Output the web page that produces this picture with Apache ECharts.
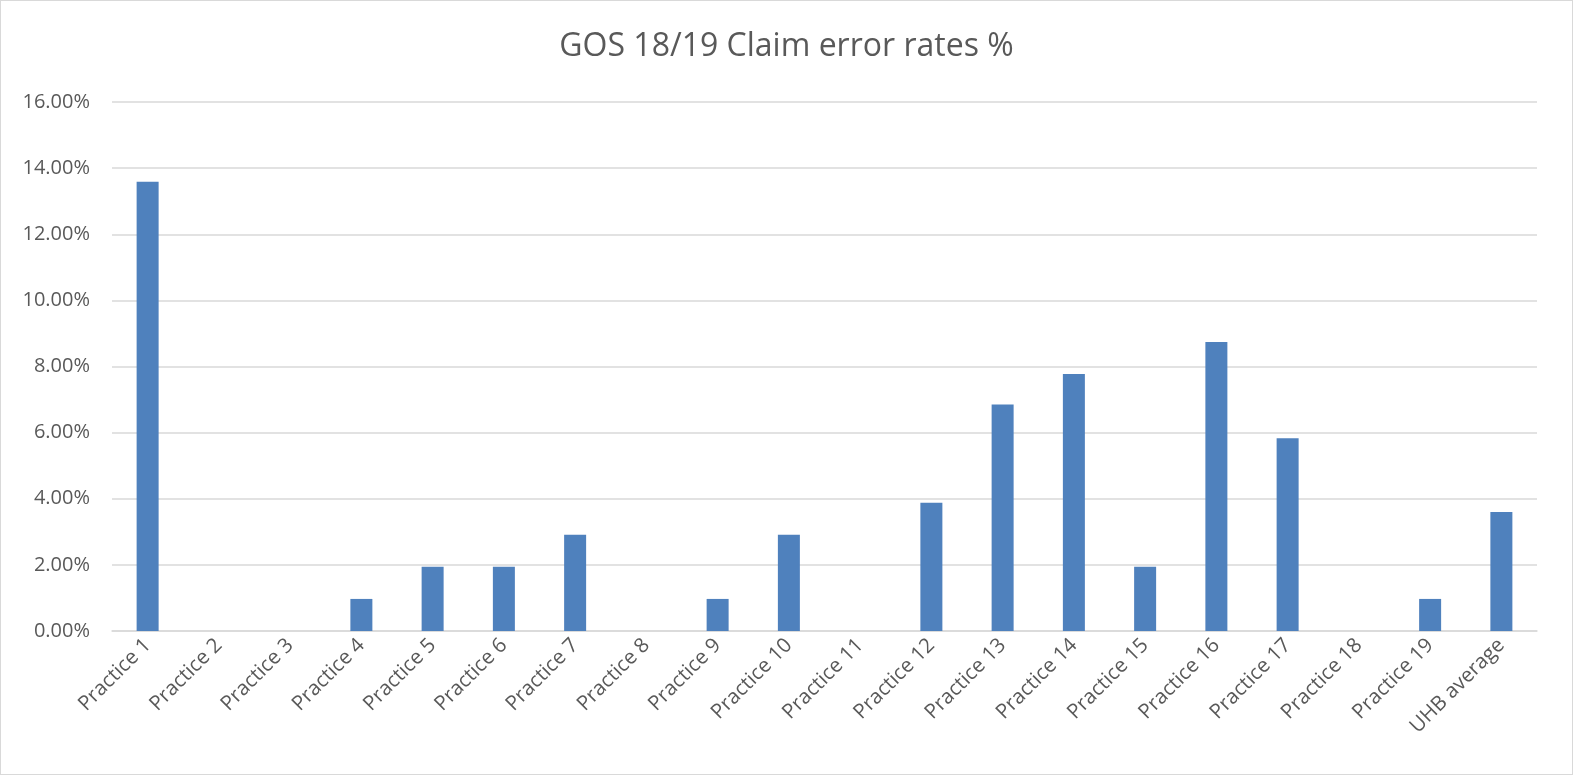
<!DOCTYPE html>
<html>
<head>
<meta charset="utf-8">
<script src="https://cdn.jsdelivr.net/npm/echarts@6/dist/echarts.min.js"></script>
<style>
  html, body { margin: 0; padding: 0; background: #fff; }
  #main { width: 1573px; height: 775px; box-sizing: border-box; border: 1px solid #d9d9d9; }
</style>
</head>
<body>
<div id="main"></div>
<script>
// categories
var practices = ['Practice 1', 'Practice 2', 'Practice 3', 'Practice 4', 'Practice 5',
  'Practice 6', 'Practice 7', 'Practice 8', 'Practice 9', 'Practice 10',
  'Practice 11', 'Practice 12', 'Practice 13', 'Practice 14', 'Practice 15',
  'Practice 16', 'Practice 17', 'Practice 18', 'Practice 19', 'UHB average'];
// error rates in %
var errorRates = [13.59, 0, 0, 0.97, 1.94, 1.94, 2.91, 0, 0.97, 2.91,
  0, 3.88, 6.85, 7.77, 1.94, 8.74, 5.83, 0, 0.97, 3.6];

var myChart = echarts.init(document.getElementById('main'));
myChart.setOption({
  animation: false,
  title: {
    text: 'GOS 18/19 Claim error rates %',
    left: 'center',
    top: 25,
    textStyle: { fontFamily: 'Open Sans', fontSize: 32, fontWeight: 'normal', color: '#595959' }
  },
  grid: { left: 111, right: 35, top: 101, bottom: 143 },
  xAxis: {
    type: 'category',
    data: practices,
    axisLine: { lineStyle: { color: '#d9d9d9', width: 1.5 } },
    axisTick: { show: false },
    axisLabel: {
      interval: 0,
      rotate: 45,
      margin: 11,
      color: '#595959',
      fontFamily: 'Open Sans',
      fontSize: 20.5
    }
  },
  yAxis: {
    type: 'value',
    min: 0,
    max: 16,
    interval: 2,
    axisLine: { show: false },
    axisTick: { show: false },
    splitLine: { lineStyle: { color: '#d9d9d9', width: 1.5 } },
    axisLabel: {
      margin: 22,
      color: '#595959',
      fontFamily: 'Open Sans',
      fontSize: 20,
      formatter: function (v) { return v.toFixed(2) + '%'; }
    }
  },
  series: [{
    type: 'bar',
    data: errorRates,
    barWidth: 22,
    itemStyle: { color: '#4f81bd' }
  }]
});
</script>
</body>
</html>
